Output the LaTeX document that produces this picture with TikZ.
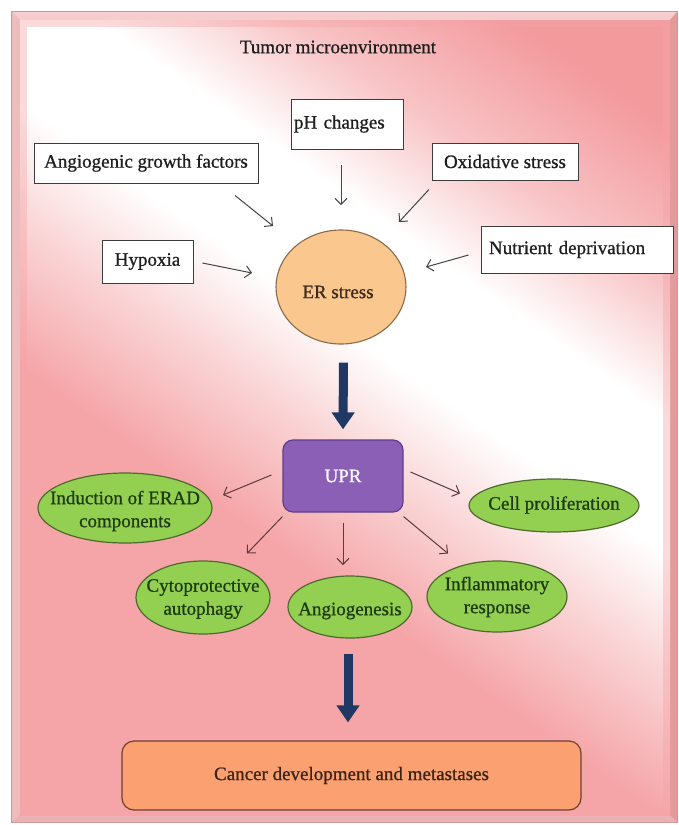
\documentclass[tikz,border=0pt]{standalone}
\usepackage{fontspec}
\setmainfont{Liberation Serif}
\newfontfamily\heavyserif{Liberation Serif}[FakeBold=0.8]
\usetikzlibrary{arrows.meta,shapes.geometric}
\definecolor{bgdeep}{HTML}{F39A9D}
\definecolor{bgmid}{HTML}{F8C4C6}
\definecolor{bglight}{HTML}{FAD4D5}
\definecolor{bgpink}{HTML}{F5A4A7}
\definecolor{framedark}{HTML}{C99A9C}
\definecolor{beveltop}{HTML}{F6CDCD}
\definecolor{bevelleft}{HTML}{EDBDBE}
\definecolor{bevelright}{HTML}{E4999B}
\definecolor{bevelbottom}{HTML}{EBB2B3}
\definecolor{boxline}{HTML}{3C3C3C}
\definecolor{textdark}{HTML}{1E1E1E}
\definecolor{arrgray}{HTML}{454545}
\definecolor{arrbrown}{HTML}{5E3A3A}
\definecolor{ercol}{HTML}{FAC88E}
\definecolor{erline}{HTML}{8A6A4A}
\definecolor{ertext}{HTML}{3D2B1F}
\definecolor{uprfill}{HTML}{8B5FB5}
\definecolor{uprline}{HTML}{5D3F8A}
\definecolor{greenfill}{HTML}{93D051}
\definecolor{greenline}{HTML}{4E6B2E}
\definecolor{greentext}{HTML}{1E3A12}
\definecolor{cancerfill}{HTML}{FBA070}
\definecolor{cancerline}{HTML}{6E4030}
\definecolor{cancertext}{HTML}{3A2418}
\definecolor{navy}{HTML}{1F3864}
\pgfdeclareverticalshading{bgband}{100bp}{color(0bp)=(bgpink); color(41.25bp)=(bgpink); color(45bp)=(bglight); color(48.1bp)=(white); color(51.56bp)=(white); color(55bp)=(bgmid); color(59.06bp)=(bgdeep); color(100bp)=(bgdeep)}
\newcommand\txtsz{\heavyserif\fontsize{19}{23}\selectfont}
\begin{document}
\begin{tikzpicture}[x=1pt,y=-1pt,
  box/.style={draw=boxline, line width=0.9pt, fill=white, inner sep=0pt, font=\txtsz, text=textdark},
  arr/.style={draw=arrgray, line width=1pt, -{Straight Barb[length=6pt,width=12pt]}},
  uarr/.style={draw=arrbrown, line width=1pt, -{Straight Barb[length=6pt,width=12pt]}},
  bigarr/.style={draw=navy, line width=9pt, -{Triangle[length=17pt,width=22pt]}},
  gell/.style={ellipse, draw=greenline, line width=1.2pt, fill=greenfill, inner sep=0pt},
  gtext/.style={font=\txtsz, text=greentext, align=center, inner sep=0pt}]
\useasboundingbox (0,0) rectangle (678,825);
\fill[white] (0,0) rectangle (678,825);
% frame with bevel
\fill[framedark] (11,11) rectangle (678,823);
\fill[beveltop] (12,12) -- (677,12) -- (670,20) -- (20,20) -- cycle;
\fill[bevelleft] (12,12) -- (20,20) -- (20,815) -- (12,822) -- cycle;
\fill[bevelright] (677,12) -- (677,822) -- (670,815) -- (670,20) -- cycle;
\fill[bevelbottom] (12,822) -- (677,822) -- (670,815) -- (20,815) -- cycle;
% background gradient
\begin{scope}
  \clip (20,20) rectangle (670,815);
  \begin{scope}[transform canvas={rotate around={-35:(360,266)}}]
    \shade[shading=bgband] (-440,-534) rectangle (1160,1066);
  \end{scope}
  \draw[bgpink, line width=14pt, opacity=0.4] (20,20) rectangle (670,815);
\end{scope}
% title
\node[font=\txtsz, text=textdark] (title) at (338,47) {Tumor microenvironment};
% stress boxes
\node[box, minimum width=112pt, minimum height=50pt, text width=106pt, align=left] (ph) at (347,124) {pH changes};
\node[box, minimum width=224pt, minimum height=40pt] (ang) at (146,163) {Angiogenic growth factors};
\node[box, minimum width=146pt, minimum height=37pt] (ox) at (505,161.5) {Oxidative stress};
\node[box, minimum width=91pt, minimum height=43pt] (hyp) at (147.5,261.5) {Hypoxia};
\node[box, minimum width=192pt, minimum height=47pt, text width=176pt, align=left] (nut) at (577,249.5) {Nutrient deprivation};
% ER stress
\node[ellipse, draw=erline, line width=1.1pt, fill=ercol, minimum width=130pt, minimum height=114pt, inner sep=0pt] (er) at (341,287) {};
\node[font=\txtsz, text=ertext] (ert) at (338,292) {ER stress};
% arrows to ER stress
\draw[arr] ([shift={(89,12)}]ang.south) -- ([shift={(-68,-61)}]er.center);
\draw[arr] ([shift={(-6,16)}]ph.south) -- ([shift={(0,-82)}]er.center);
\draw[arr] ([shift={(-76,9)}]ox.south) -- ([shift={(58,-65)}]er.center);
\draw[arr] ([shift={(9,1.5)}]hyp.east) -- ([shift={(-89,-14)}]er.center);
\draw[arr] ([shift={(-12,5.5)}]nut.west) -- ([shift={(85,-20)}]er.center);
% UPR
\node[draw=uprline, fill=uprfill, line width=1.2pt, rounded corners=10pt, minimum width=120pt, minimum height=72pt, inner sep=0pt, font=\txtsz, text=white] (upr) at (343,476) {UPR};
\draw[bigarr] ([shift={(2.5,18)}]er.south) -- ([shift={(0,-10)}]upr.north);
% green outcomes
\node[gell, minimum width=174pt, minimum height=70pt] (erad) at (125,508) {};
\node[gtext] (eradt) at (125,511) {Induction of ERAD\\components};
\node[gell, minimum width=170pt, minimum height=53pt] (cell) at (554,505.5) {};
\node[gtext] (cellt) at (554,505) {Cell proliferation};
\node[gell, minimum width=134pt, minimum height=73pt] (cyto) at (203,597.5) {};
\node[gtext] (cytot) at (203,599) {Cytoprotective\\autophagy};
\node[gell, minimum width=124pt, minimum height=62pt] (angio) at (350,607) {};
\node[gtext] (angiot) at (350,611) {Angiogenesis};
\node[gell, minimum width=140pt, minimum height=71pt] (infl) at (497,596.5) {};
\node[gtext] (inflt) at (497,597) {Inflammatory\\response};
% UPR arrows
\draw[uarr] ([shift={(-11,-1)}]upr.west) -- ([shift={(98,-13)}]erad.center);
\draw[uarr] ([shift={(7,-4)}]upr.east) -- ([shift={(-94,-12)}]cell.center);
\draw[uarr] ([shift={(0,4)}]upr.south west) -- ([shift={(44,-44)}]cyto.center);
\draw[uarr] ([shift={(0,10)}]upr.south) -- ([shift={(-7,-42)}]angio.center);
\draw[uarr] ([shift={(0,4)}]upr.south east) -- ([shift={(-49,-43)}]infl.center);
% cancer
\node[draw=cancerline, fill=cancerfill, line width=1.2pt, rounded corners=12pt, minimum width=459pt, minimum height=69pt, inner sep=0pt, font=\txtsz, text=cancertext] (cancer) at (351.5,775.5) {Cancer development and metastases};
\draw[bigarr] ([shift={(-2,15)}]angio.south) -- ([shift={(-3.5,-18)}]cancer.north);
\end{tikzpicture}
\end{document}
